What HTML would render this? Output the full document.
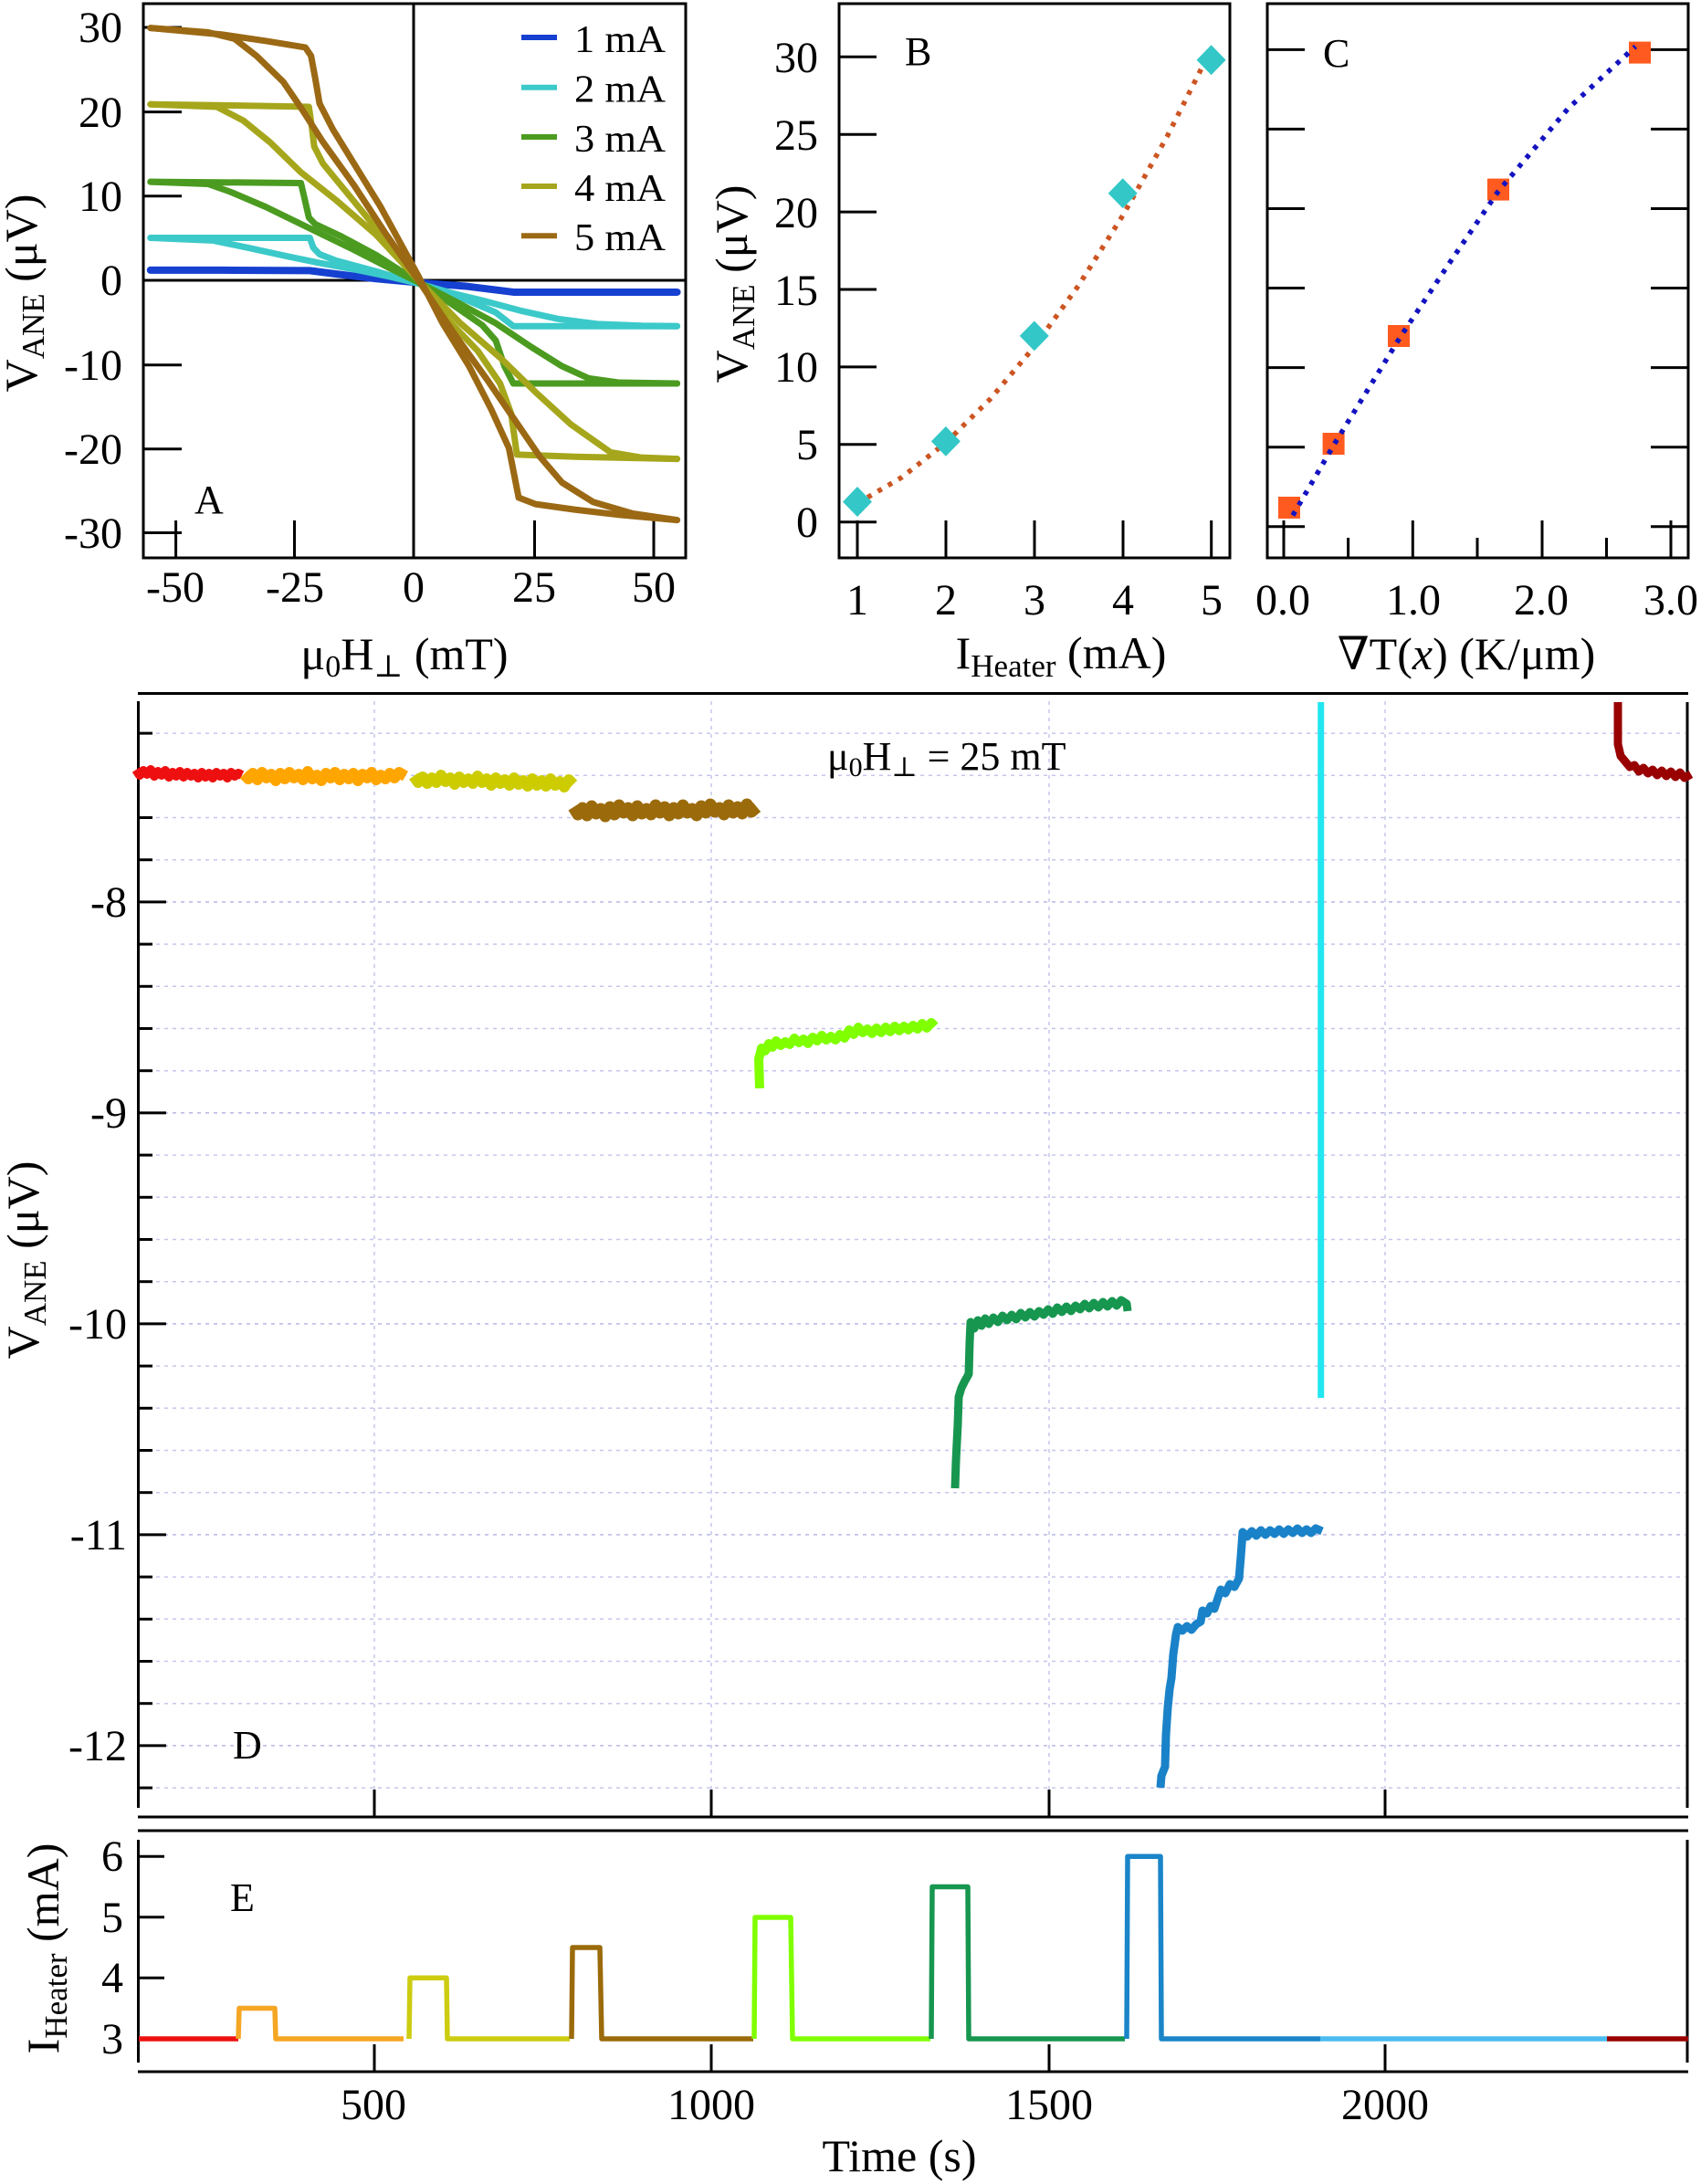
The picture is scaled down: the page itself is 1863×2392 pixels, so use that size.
<!DOCTYPE html>
<html><head><meta charset="utf-8"><style>html,body{margin:0;padding:0;background:#fff}svg{display:block}</style></head>
<body>
<svg width="1863" height="2392" viewBox="0 0 1863 2392" xmlns="http://www.w3.org/2000/svg" font-family="'Liberation Serif', 'DejaVu Serif', serif" fill="#000">
<rect width="1863" height="2392" fill="#fff"/>

<!-- ================= PANEL A ================= -->
<g stroke="#000" stroke-width="3" fill="none">
  <line x1="453" y1="4" x2="453" y2="611"/>
  <line x1="157" y1="307" x2="751" y2="307"/>
  <line x1="157" y1="30" x2="199" y2="30"/>
  <line x1="157" y1="122.6" x2="199" y2="122.6"/>
  <line x1="157" y1="214.7" x2="199" y2="214.7"/>
  <line x1="157" y1="399.7" x2="199" y2="399.7"/>
  <line x1="157" y1="491.7" x2="199" y2="491.7"/>
  <line x1="157" y1="583.5" x2="199" y2="583.5"/>
  <line x1="192.6" y1="611" x2="192.6" y2="570"/>
  <line x1="322.5" y1="611" x2="322.5" y2="570"/>
  <line x1="585.5" y1="611" x2="585.5" y2="570"/>
  <line x1="716" y1="611" x2="716" y2="570"/>
</g>
<g transform="scale(0.4847,0.4719)" fill="none" stroke-linejoin="round" stroke-linecap="round">
  <path vector-effect="non-scaling-stroke" stroke="#1640d0" stroke-width="8" d="M340,627 L500,627 L700,628 L760,636 L850,647 L945,656 L1050,664 L1160,678 L1300,678 L1530,678"/>
  <path vector-effect="non-scaling-stroke" stroke="#3cc9c9" stroke-width="7" d="M340,552 L700,552 L708,575 L722,590 L760,605 L850,630 L945,658 L1040,690 L1120,725 L1145,745 L1160,757 L1530,757"/>
  <path vector-effect="non-scaling-stroke" stroke="#3cc9c9" stroke-width="7" d="M340,552 L480,558 L560,575 L650,595 L720,610 L800,625 L880,642 L945,658 L1020,680 L1100,700 L1180,722 L1260,740 L1350,752 L1450,756 L1530,757"/>
  <path vector-effect="non-scaling-stroke" stroke="#4b9b20" stroke-width="7" d="M340,422 L600,424 L680,425 L688,460 L698,505 L712,520 L770,548 L850,592 L945,655 L1020,705 L1090,755 L1120,790 L1140,850 L1160,890 L1530,890"/>
  <path vector-effect="non-scaling-stroke" stroke="#4b9b20" stroke-width="7" d="M340,422 L470,427 L520,445 L600,480 L700,530 L800,580 L880,622 L945,655 L1030,700 L1120,750 L1200,805 L1270,850 L1330,878 L1400,888 L1530,890"/>
  <path vector-effect="non-scaling-stroke" stroke="#a6a61c" stroke-width="7" d="M340,242 L600,246 L698,248 L704,290 L710,340 L730,380 L770,430 L850,530 L945,650 L1010,740 L1080,815 L1130,890 L1155,960 L1168,1055 L1300,1060 L1530,1065"/>
  <path vector-effect="non-scaling-stroke" stroke="#a6a61c" stroke-width="7" d="M340,242 L490,248 L550,280 L610,330 L680,400 L760,465 L850,545 L945,650 L1040,750 L1130,830 L1210,910 L1290,985 L1380,1050 L1450,1062 L1530,1065"/>
  <path vector-effect="non-scaling-stroke" stroke="#9b6914" stroke-width="7" d="M340,65 L500,80 L600,95 L690,110 L703,130 L712,180 L722,240 L752,300 L800,380 L860,480 L945,640 L1000,750 L1060,850 L1110,950 L1150,1040 L1172,1155 L1210,1170 L1300,1183 L1400,1195 L1530,1207"/>
  <path vector-effect="non-scaling-stroke" stroke="#9b6914" stroke-width="7" d="M340,65 L470,75 L530,90 L580,130 L640,190 L680,250 L730,330 L800,430 L870,540 L945,650 L1030,780 L1100,880 L1160,970 L1220,1060 L1270,1120 L1340,1165 L1430,1192 L1530,1207"/>
</g>
<rect x="157" y="4" width="594" height="607" fill="none" stroke="#000" stroke-width="3"/>
<!-- legend -->
<g stroke-width="6" fill="none">
  <line x1="571" y1="41" x2="610" y2="41" stroke="#1640d0"/>
  <line x1="571" y1="95.7" x2="610" y2="95.7" stroke="#3cc9c9"/>
  <line x1="571" y1="150" x2="610" y2="150" stroke="#4b9b20"/>
  <line x1="571" y1="204" x2="610" y2="204" stroke="#a6a61c"/>
  <line x1="571" y1="258.3" x2="610" y2="258.3" stroke="#9b6914"/>
</g>
<g font-size="42">
  <text x="629" y="57" textLength="100" lengthAdjust="spacingAndGlyphs">1 mA</text>
  <text x="629" y="111.5" textLength="100" lengthAdjust="spacingAndGlyphs">2 mA</text>
  <text x="629" y="166" textLength="100" lengthAdjust="spacingAndGlyphs">3 mA</text>
  <text x="629" y="220" textLength="100" lengthAdjust="spacingAndGlyphs">4 mA</text>
  <text x="629" y="274" textLength="100" lengthAdjust="spacingAndGlyphs">5 mA</text>
</g>
<g font-size="48" text-anchor="end">
  <text x="134" y="46">30</text>
  <text x="134" y="139">20</text>
  <text x="134" y="231">10</text>
  <text x="134" y="323">0</text>
  <text x="134" y="416">-10</text>
  <text x="134" y="508">-20</text>
  <text x="134" y="600">-30</text>
</g>
<g font-size="48" text-anchor="middle">
  <text x="192" y="659">-50</text>
  <text x="323" y="659">-25</text>
  <text x="453" y="659">0</text>
  <text x="585" y="659">25</text>
  <text x="716" y="659">50</text>
</g>
<text x="213" y="562" font-size="44">A</text>
<text x="443" y="733" font-size="50" text-anchor="middle">μ<tspan font-size="34" dy="8">0</tspan><tspan dy="-8">H</tspan><tspan font-size="34" dy="8">⊥</tspan><tspan dy="-8"> (mT)</tspan></text>
<text transform="translate(40,321) rotate(-90)" font-size="50" text-anchor="middle">V<tspan font-size="35" dy="8">ANE</tspan><tspan dy="-8"> (μV)</tspan></text>

<!-- ================= PANEL B ================= -->
<g stroke="#000" stroke-width="3" fill="none">
  <line x1="919" y1="571.7" x2="960" y2="571.7"/>
  <line x1="919" y1="486.8" x2="960" y2="486.8"/>
  <line x1="919" y1="401.9" x2="960" y2="401.9"/>
  <line x1="919" y1="317" x2="960" y2="317"/>
  <line x1="919" y1="232.1" x2="960" y2="232.1"/>
  <line x1="919" y1="147.2" x2="960" y2="147.2"/>
  <line x1="919" y1="62.3" x2="960" y2="62.3"/>
  <line x1="939" y1="611" x2="939" y2="570"/>
  <line x1="1036" y1="611" x2="1036" y2="570"/>
  <line x1="1133" y1="611" x2="1133" y2="570"/>
  <line x1="1230" y1="611" x2="1230" y2="570"/>
  <line x1="1326.7" y1="611" x2="1326.7" y2="570"/>
</g>
<polyline fill="none" stroke="#cc5522" stroke-width="5.5" stroke-dasharray="5 8" points="939,551.3 987.5,522.9 1035.9,484.9 1084.4,437.2 1132.8,379.8 1181.2,312.8 1229.7,236.1 1278.1,149.8 1326.6,53.8"/>
<g fill="#33c7c7">
  <polygon points="939,533 955,549.6 939,566 923,549.6"/>
  <polygon points="1035.9,467 1051.9,483.4 1035.9,499.8 1019.9,483.4"/>
  <polygon points="1132.8,351.5 1148.8,367.9 1132.8,384.3 1116.8,367.9"/>
  <polygon points="1229.7,195.3 1245.7,211.7 1229.7,228.1 1213.7,211.7"/>
  <polygon points="1326.6,49.3 1342.6,65.7 1326.6,82.1 1310.6,65.7"/>
</g>
<rect x="919" y="4" width="428" height="607" fill="none" stroke="#000" stroke-width="3"/>
<g font-size="48" text-anchor="end">
  <text x="896" y="79">30</text>
  <text x="896" y="164">25</text>
  <text x="896" y="249">20</text>
  <text x="896" y="334">15</text>
  <text x="896" y="418">10</text>
  <text x="896" y="503">5</text>
  <text x="896" y="588">0</text>
</g>
<g font-size="48" text-anchor="middle">
  <text x="939" y="673">1</text>
  <text x="1036" y="673">2</text>
  <text x="1133" y="673">3</text>
  <text x="1230" y="673">4</text>
  <text x="1327" y="673">5</text>
</g>
<text x="991" y="71" font-size="44">B</text>
<text x="1162" y="732" font-size="50" text-anchor="middle">I<tspan font-size="35" dy="9">Heater</tspan><tspan dy="-9"> (mA)</tspan></text>
<text transform="translate(818,311) rotate(-90)" font-size="50" text-anchor="middle">V<tspan font-size="35" dy="8">ANE</tspan><tspan dy="-8"> (μV)</tspan></text>

<!-- ================= PANEL C ================= -->
<g stroke="#000" stroke-width="3" fill="none">
  <line x1="1388" y1="576.7" x2="1429" y2="576.7"/><line x1="1808" y1="576.7" x2="1849" y2="576.7"/>
  <line x1="1388" y1="489.7" x2="1429" y2="489.7"/><line x1="1808" y1="489.7" x2="1849" y2="489.7"/>
  <line x1="1388" y1="402.6" x2="1429" y2="402.6"/><line x1="1808" y1="402.6" x2="1849" y2="402.6"/>
  <line x1="1388" y1="315.5" x2="1429" y2="315.5"/><line x1="1808" y1="315.5" x2="1849" y2="315.5"/>
  <line x1="1388" y1="228.5" x2="1429" y2="228.5"/><line x1="1808" y1="228.5" x2="1849" y2="228.5"/>
  <line x1="1388" y1="141.4" x2="1429" y2="141.4"/><line x1="1808" y1="141.4" x2="1849" y2="141.4"/>
  <line x1="1388" y1="54.4" x2="1429" y2="54.4"/><line x1="1808" y1="54.4" x2="1849" y2="54.4"/>
  <line x1="1406" y1="611" x2="1406" y2="570"/>
  <line x1="1547.3" y1="611" x2="1547.3" y2="570"/>
  <line x1="1689" y1="611" x2="1689" y2="570"/>
  <line x1="1830" y1="611" x2="1830" y2="570"/>
  <line x1="1476.6" y1="611" x2="1476.6" y2="589"/>
  <line x1="1618" y1="611" x2="1618" y2="589"/>
  <line x1="1759.5" y1="611" x2="1759.5" y2="589"/>
</g>
<g fill="#ff5a1f">
  <rect x="1400" y="544" width="24" height="24"/>
  <rect x="1448.6" y="474" width="24" height="24"/>
  <rect x="1520" y="356" width="24" height="24"/>
  <rect x="1629" y="195.6" width="24" height="24"/>
  <rect x="1784" y="45.6" width="24" height="24"/>
</g>
<path fill="none" stroke="#1212c0" stroke-width="5.5" stroke-dasharray="5 8" d="M1415.9,564.5 L1462.6,484.4 L1533.4,369.5 L1590.1,284.2 L1641.1,209.3 L1717.5,118.8 L1791.2,50.9"/>
<rect x="1388" y="4" width="461" height="607" fill="none" stroke="#000" stroke-width="3"/>
<g font-size="48" text-anchor="middle">
  <text x="1405" y="673">0.0</text>
  <text x="1548" y="673">1.0</text>
  <text x="1688" y="673">2.0</text>
  <text x="1830" y="673">3.0</text>
</g>
<text x="1449" y="73" font-size="44">C</text>
<text x="1606" y="733" font-size="50" text-anchor="middle">∇T(<tspan font-style="italic">x</tspan>) (K/μm)</text>

<!-- ================= PANEL D ================= -->
<g stroke="#c6c6ec" stroke-width="1.5" stroke-dasharray="4 5" fill="none">
  <line x1="153" y1="803.1" x2="1846" y2="803.1"/>
  <line x1="153" y1="849.3" x2="1846" y2="849.3"/>
  <line x1="153" y1="895.5" x2="1846" y2="895.5"/>
  <line x1="153" y1="941.7" x2="1846" y2="941.7"/>
  <line x1="153" y1="987.9" x2="1846" y2="987.9" stroke="#b8b8e8"/>
  <line x1="153" y1="1034.1" x2="1846" y2="1034.1"/>
  <line x1="153" y1="1080.3" x2="1846" y2="1080.3"/>
  <line x1="153" y1="1126.5" x2="1846" y2="1126.5"/>
  <line x1="153" y1="1172.7" x2="1846" y2="1172.7"/>
  <line x1="153" y1="1218.9" x2="1846" y2="1218.9" stroke="#b8b8e8"/>
  <line x1="153" y1="1265.1" x2="1846" y2="1265.1"/>
  <line x1="153" y1="1311.3" x2="1846" y2="1311.3"/>
  <line x1="153" y1="1357.5" x2="1846" y2="1357.5"/>
  <line x1="153" y1="1403.7" x2="1846" y2="1403.7"/>
  <line x1="153" y1="1449.9" x2="1846" y2="1449.9" stroke="#b8b8e8"/>
  <line x1="153" y1="1496.1" x2="1846" y2="1496.1"/>
  <line x1="153" y1="1542.3" x2="1846" y2="1542.3"/>
  <line x1="153" y1="1588.5" x2="1846" y2="1588.5"/>
  <line x1="153" y1="1634.7" x2="1846" y2="1634.7"/>
  <line x1="153" y1="1680.9" x2="1846" y2="1680.9" stroke="#b8b8e8"/>
  <line x1="153" y1="1727.1" x2="1846" y2="1727.1"/>
  <line x1="153" y1="1773.3" x2="1846" y2="1773.3"/>
  <line x1="153" y1="1819.5" x2="1846" y2="1819.5"/>
  <line x1="153" y1="1865.7" x2="1846" y2="1865.7"/>
  <line x1="153" y1="1911.9" x2="1846" y2="1911.9" stroke="#b8b8e8"/>
  <line x1="153" y1="1958.1" x2="1846" y2="1958.1"/>
  <line x1="410" y1="768" x2="410" y2="1988"/>
  <line x1="779" y1="768" x2="779" y2="1988"/>
  <line x1="1149" y1="768" x2="1149" y2="1988"/>
  <line x1="1517" y1="768" x2="1517" y2="1988"/>
</g>
<g stroke="#000" stroke-width="3" fill="none">
  <line x1="151" y1="759.5" x2="1849" y2="759.5"/>
  <line x1="151.5" y1="768" x2="151.5" y2="1980"/>
  <line x1="1848" y1="769" x2="1848" y2="1980"/>
  <line x1="151" y1="1990" x2="1849" y2="1990"/>
  <line x1="151" y1="803.1" x2="167" y2="803.1"/>
  <line x1="151" y1="849.3" x2="167" y2="849.3"/>
  <line x1="151" y1="895.5" x2="167" y2="895.5"/>
  <line x1="151" y1="941.7" x2="167" y2="941.7"/>
  <line x1="151" y1="987.9" x2="182" y2="987.9"/>
  <line x1="151" y1="1034.1" x2="167" y2="1034.1"/>
  <line x1="151" y1="1080.3" x2="167" y2="1080.3"/>
  <line x1="151" y1="1126.5" x2="167" y2="1126.5"/>
  <line x1="151" y1="1172.7" x2="167" y2="1172.7"/>
  <line x1="151" y1="1218.9" x2="182" y2="1218.9"/>
  <line x1="151" y1="1265.1" x2="167" y2="1265.1"/>
  <line x1="151" y1="1311.3" x2="167" y2="1311.3"/>
  <line x1="151" y1="1357.5" x2="167" y2="1357.5"/>
  <line x1="151" y1="1403.7" x2="167" y2="1403.7"/>
  <line x1="151" y1="1449.9" x2="182" y2="1449.9"/>
  <line x1="151" y1="1496.1" x2="167" y2="1496.1"/>
  <line x1="151" y1="1542.3" x2="167" y2="1542.3"/>
  <line x1="151" y1="1588.5" x2="167" y2="1588.5"/>
  <line x1="151" y1="1634.7" x2="167" y2="1634.7"/>
  <line x1="151" y1="1680.9" x2="182" y2="1680.9"/>
  <line x1="151" y1="1727.1" x2="167" y2="1727.1"/>
  <line x1="151" y1="1773.3" x2="167" y2="1773.3"/>
  <line x1="151" y1="1819.5" x2="167" y2="1819.5"/>
  <line x1="151" y1="1865.7" x2="167" y2="1865.7"/>
  <line x1="151" y1="1911.9" x2="182" y2="1911.9"/>
  <line x1="151" y1="1958.1" x2="167" y2="1958.1"/>
  <line x1="410" y1="1990" x2="410" y2="1960"/>
  <line x1="779" y1="1990" x2="779" y2="1960"/>
  <line x1="1149" y1="1990" x2="1149" y2="1960"/>
  <line x1="1517" y1="1990" x2="1517" y2="1960"/>
</g>
<g fill="none" stroke-linejoin="round">
  <polyline stroke="#ee1010" stroke-width="10" points="149,843 153,849 157,844 161,848 165,843 169,850 173,845 177,849 181,844 185,851 189,846 193,850 197,845 201,851 205,846 209,850 213,847 217,852 221,846 225,851 229,847 233,852 237,846 241,850 245,847 249,852 253,846 257,850 261,847 265,849"/>
  <polyline stroke="#ffa500" stroke-width="12" points="267,848 272,853 277,847 282,854 287,846 292,852 297,848 302,855 307,847 312,853 317,846 322,852 327,848 332,854 337,845 342,853 347,849 352,855 357,847 362,852 367,846 372,854 377,848 382,853 387,847 392,855 397,848 402,852 407,846 412,854 417,849 422,853 427,847 432,852 437,846 444,850"/>
  <polyline stroke="#cccc00" stroke-width="12" points="453,850 458,857 463,851 468,858 473,852 478,857 483,849 488,856 493,852 498,859 503,851 508,857 513,853 518,858 523,850 528,857 533,853 538,860 543,852 548,858 553,854 558,860 563,852 568,859 573,855 578,861 583,853 588,860 593,855 598,861 603,853 608,860 613,856 618,862 623,854 628,859"/>
  <polyline stroke="#9b6a0a" stroke-width="13" points="628,884 633,892 638,885 643,893 648,883 653,891 658,886 663,894 668,884 673,892 678,882 683,890 688,885 693,893 698,883 703,891 708,886 713,892 718,882 723,890 728,884 733,893 738,885 743,891 748,882 753,890 758,886 763,893 768,883 773,890 778,881 783,889 788,885 793,892 798,882 803,890 808,884 813,891 818,881 823,889 829,884"/>
  <polyline stroke="#80ff00" stroke-width="10" points="832,1192 831,1160 834,1148 838,1151 842,1143 846,1147 850,1140 855,1145 860,1141 865,1144 870,1137 875,1142 880,1138 885,1143 890,1136 895,1140 900,1134 905,1139 910,1135 915,1139 920,1133 925,1137 930,1128 935,1133 940,1125 945,1131 950,1127 955,1132 960,1126 965,1131 970,1125 975,1130 980,1124 985,1129 990,1124 995,1128 1000,1123 1005,1127 1010,1121 1015,1126 1020,1120 1024,1124"/>
  <polyline stroke="#179650" stroke-width="9" points="1046,1630 1047,1600 1049,1560 1050,1530 1053,1520 1057,1512 1061,1505 1062,1470 1063,1448 1067,1455 1071,1446 1075,1452 1079,1444 1083,1450 1088,1443 1093,1448 1098,1441 1103,1446 1108,1440 1113,1445 1118,1438 1123,1443 1128,1437 1133,1442 1138,1436 1143,1440 1148,1434 1153,1439 1158,1432 1163,1437 1168,1431 1173,1436 1178,1430 1183,1434 1188,1428 1193,1433 1198,1427 1203,1432 1208,1426 1213,1431 1218,1425 1223,1430 1228,1424 1234,1428 1235,1436"/>
  <line x1="1446.7" y1="769" x2="1446.7" y2="1531" stroke="#22e6f0" stroke-width="7"/>
  <polyline stroke="#1a82c8" stroke-width="9" points="1271,1958 1272,1945 1276,1935 1277,1900 1279,1870 1281,1850 1283,1838 1285,1812 1288,1790 1290,1782 1295,1786 1300,1781 1305,1785 1310,1779 1315,1776 1317,1764 1322,1767 1326,1759 1330,1762 1334,1750 1337,1741 1342,1745 1347,1735 1352,1738 1357,1729 1359,1705 1361,1678 1366,1683 1371,1677 1376,1682 1381,1676 1386,1681 1391,1676 1396,1680 1401,1675 1406,1680 1411,1675 1416,1679 1421,1674 1426,1679 1431,1675 1436,1679 1441,1674 1448,1677"/>
  <polyline stroke="#990000" stroke-width="9" points="1772,769 1772,815 1775,828 1780,834 1785,840 1790,838 1795,845 1800,841 1805,847 1810,843 1815,849 1820,844 1825,850 1830,845 1835,851 1840,846 1845,852 1852,848"/>
</g>
<g font-size="48" text-anchor="end">
  <text x="139" y="1004">-8</text>
  <text x="139" y="1235">-9</text>
  <text x="139" y="1466">-10</text>
  <text x="139" y="1697">-11</text>
  <text x="139" y="1928">-12</text>
</g>
<text x="255" y="1926" font-size="44">D</text>
<text x="906" y="843" font-size="44">μ<tspan font-size="30" dy="7">0</tspan><tspan dy="-7">H</tspan><tspan font-size="30" dy="7">⊥</tspan><tspan dy="-7"> = 25 mT</tspan></text>
<text transform="translate(42,1380) rotate(-90)" font-size="50" text-anchor="middle">V<tspan font-size="35" dy="8">ANE</tspan><tspan dy="-8"> (μV)</tspan></text>

<!-- ================= PANEL E ================= -->
<g stroke="#000" stroke-width="3" fill="none">
  <line x1="151" y1="2005" x2="1849" y2="2005"/>
  <line x1="151.5" y1="2015" x2="151.5" y2="2259"/>
  <line x1="1848" y1="2015" x2="1848" y2="2259"/>
  <line x1="151" y1="2269" x2="1849" y2="2269"/>
  <line x1="151" y1="2033.3" x2="180" y2="2033.3"/>
  <line x1="151" y1="2099.8" x2="180" y2="2099.8"/>
  <line x1="151" y1="2166.3" x2="180" y2="2166.3"/>
  <line x1="151" y1="2232.8" x2="180" y2="2232.8"/>
  <line x1="410" y1="2269" x2="410" y2="2239"/>
  <line x1="779" y1="2269" x2="779" y2="2239"/>
  <line x1="1149" y1="2269" x2="1149" y2="2239"/>
  <line x1="1517" y1="2269" x2="1517" y2="2239"/>
</g>
<g fill="none" stroke-width="5.5" stroke-linejoin="round">
  <polyline stroke="#ee1010" points="152,2233 261,2233"/>
  <polyline stroke="#f5a623" points="261,2233 262,2199.5 301,2199.5 302,2233 442,2233"/>
  <polyline stroke="#cccc10" points="448,2233 449,2166.3 489,2166.3 490,2233 624,2233"/>
  <polyline stroke="#9b6a0a" points="626,2233 627,2133 657,2133 659,2233 825,2233"/>
  <polyline stroke="#80ff00" points="826,2233 827,2100 866,2100 868,2233 1019,2233"/>
  <polyline stroke="#179650" points="1020,2233 1021,2066.5 1060,2066.5 1061,2233 1232,2233"/>
  <polyline stroke="#1a85c8" points="1234,2233 1235,2033.3 1271,2033.3 1272,2233 1446,2233"/>
  <polyline stroke="#4cbcf0" points="1446,2233 1760,2233"/>
  <polyline stroke="#990000" points="1760,2233 1849,2233"/>
</g>
<g font-size="48" text-anchor="end">
  <text x="135" y="2049">6</text>
  <text x="135" y="2116">5</text>
  <text x="135" y="2182">4</text>
  <text x="135" y="2249">3</text>
</g>
<g font-size="48" text-anchor="middle">
  <text x="409" y="2321">500</text>
  <text x="779" y="2321">1000</text>
  <text x="1149" y="2321">1500</text>
  <text x="1517" y="2321">2000</text>
</g>
<text x="252" y="2093" font-size="44">E</text>
<text x="985" y="2378" font-size="50" text-anchor="middle">Time (s)</text>
<text transform="translate(64,2134) rotate(-90)" font-size="50" text-anchor="middle">I<tspan font-size="35" dy="9">Heater</tspan><tspan dy="-9"> (mA)</tspan></text>
</svg>
</body></html>
